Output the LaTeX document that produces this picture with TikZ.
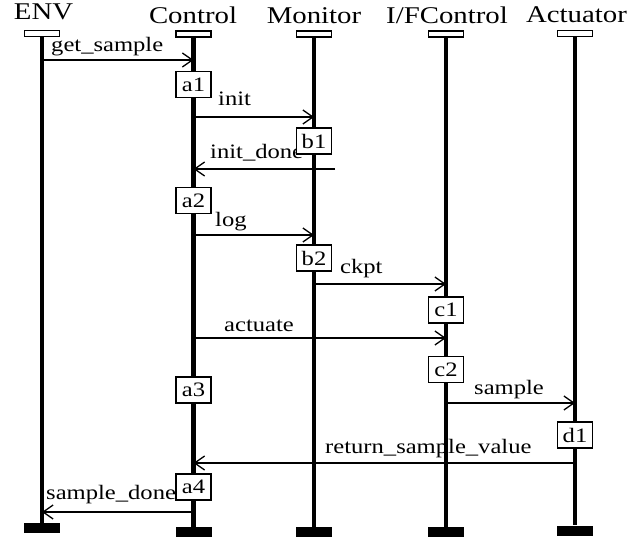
\documentclass[tikz,border=0pt]{standalone}
\usepackage{fontspec}
\setmainfont{Liberation Serif}[FakeStretch=1.2]
\usetikzlibrary{arrows.meta}
\newcommand{\ttlfont}{\fontsize{24}{28}\selectfont}
\newcommand{\lblfont}{\fontsize{20.5}{24}\selectfont}
\tikzset{
  headbox/.style={draw, fill=white, line width=1.3pt, minimum width=35pt, minimum height=6pt, inner sep=0pt},
  endbar/.style={fill=black, minimum width=36pt, minimum height=10pt, inner sep=0pt},
  lifeline/.style={line width=4.5pt},
  msg/.style={line width=1.3pt, -{Straight Barb[length=10pt,width=14pt]}},
  actbox/.style={draw, fill=white, line width=1.3pt, minimum width=35pt, minimum height=26pt, inner sep=0pt, font=\lblfont},
  ttl/.style={anchor=base, inner sep=0pt, font=\ttlfont},
  lbl/.style={anchor=base west, inner sep=0pt, font=\lblfont}
}
\begin{document}
\begin{tikzpicture}[x=1pt,y=-1pt]
\useasboundingbox (0,0) rectangle (639,537);
% titles
\node[ttl] (tENV) at (43.5,20) {ENV};
\node[ttl] (tCtl) at (193,24) {Control};
\node[ttl] (tMon) at (314,24) {Monitor};
\node[ttl] (tIF) at (447,23.5) {I/FControl};
\node[ttl] (tAct) at (576.5,23) {Actuator};
% head boxes
\node[headbox] (hENV) at (42,33.7) {};
\node[headbox] (hCtl) at (193.5,34) {};
\node[headbox] (hMon) at (314,34) {};
\node[headbox] (hIF) at (446,34) {};
\node[headbox] (hAct) at (575,33.5) {};
% end bars
\node[endbar] (bENV) at (42,528) {};
\node[endbar] (bCtl) at (193.5,532) {};
\node[endbar] (bMon) at (314,532) {};
\node[endbar] (bIF) at (446,532) {};
\node[endbar] (bAct) at (575,530.5) {};
% lifelines
\draw[lifeline] (hENV.south) -- (bENV.north);
\draw[lifeline] (hCtl.south) -- (bCtl.north);
\draw[lifeline] (hMon.south) -- (bMon.north);
\draw[lifeline] (hIF.south) -- (bIF.north);
\draw[lifeline] (hAct.south) -- (bAct.north);
% message points
\coordinate (m1s) at (42,60);    \coordinate (m1e) at (193.5,60);
\coordinate (m2s) at (193.5,117); \coordinate (m2e) at (314,117);
\coordinate (m3s) at (335,169);  \coordinate (m3e) at (193.5,169);
\coordinate (m4s) at (193.5,235); \coordinate (m4e) at (314,235);
\coordinate (m5s) at (314,284);  \coordinate (m5e) at (446,284);
\coordinate (m6s) at (193.5,338); \coordinate (m6e) at (446,338);
\coordinate (m7s) at (446,403);  \coordinate (m7e) at (575,403);
\coordinate (m8s) at (575,463);  \coordinate (m8e) at (193.5,463);
\coordinate (m9s) at (193.5,512); \coordinate (m9e) at (42,512);
% messages
\draw[msg] (m1s) -- (m1e);
\draw[msg] (m2s) -- (m2e);
\draw[msg] (m3s) -- (m3e);
\draw[msg] (m4s) -- (m4e);
\draw[msg] (m5s) -- (m5e);
\draw[msg] (m6s) -- (m6e);
\draw[msg] (m7s) -- (m7e);
\draw[msg] (m8s) -- (m8e);
\draw[msg] (m9s) -- (m9e);
% labels
\node[lbl] (l1) at (51,52) {get\_sample};
\node[lbl] (l2) at (218,106) {init};
\node[lbl] (l3) at (210,159) {init\_done};
\node[lbl] (l4) at (215,226) {log};
\node[lbl] (l5) at (340,273) {ckpt};
\node[lbl] (l6) at (224,331) {actuate};
\node[lbl] (l7) at (474,394) {sample};
\node[lbl] (l8) at (325,453) {return\_sample\_value};
\node[lbl] (l9) at (46,499) {sample\_done};
% activation boxes
\node[actbox] (a1) at (193.5,84.5) {a1};
\node[actbox] (b1) at (314,141) {b1};
\node[actbox] (a2) at (193.5,200.5) {a2};
\node[actbox] (b2) at (314,258) {b2};
\node[actbox] (c1) at (446,310) {c1};
\node[actbox] (c2) at (446,369.5) {c2};
\node[actbox] (a3) at (193.5,390) {a3};
\node[actbox] (d1) at (575,435) {d1};
\node[actbox] (a4) at (193.5,487) {a4};
\end{tikzpicture}
\end{document}
